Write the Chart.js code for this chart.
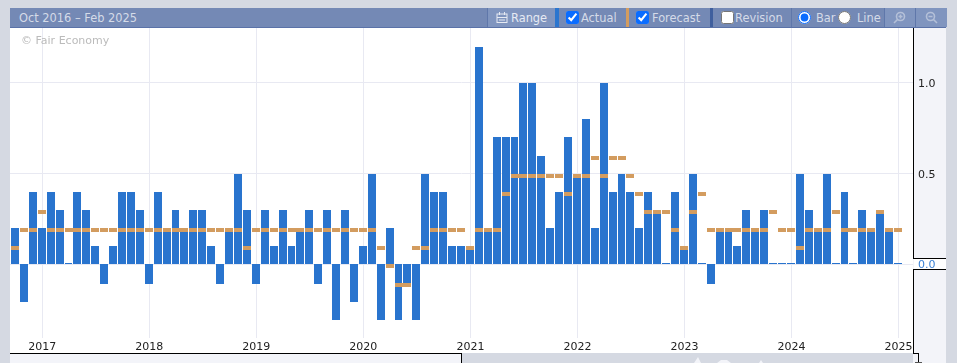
<!DOCTYPE html>
<html>
<head>
<meta charset="utf-8">
<script src="https://cdn.jsdelivr.net/npm/chart.js@4/dist/chart.umd.js"></script>
<style>
  html, body { margin: 0; padding: 0; }
  body { width: 957px; height: 363px; background: #d5d9e2; overflow: hidden; position: relative;
         font-family: "DejaVu Sans", sans-serif; }
  .box { position: absolute; }
  #bar { left: 10px; top: 8px; width: 936px; height: 19px; background: #7489b5; border-bottom: 1px solid #5a72a8; color: #d5dbe8; font-size: 11.4px; }
  #bar span, #bar input, #bar svg, #bar i { position: absolute; }
  #bar span { top: 3px; line-height: 14px; white-space: nowrap; }
  #bar i { top: 0; height: 19px; }
  #bar input { margin: 0; top: 3px; width: 13px; height: 13px; accent-color: #0a6cff; }
  canvas { position: absolute; left: 10px; top: 28px; }
</style>
</head>
<body>
<div class="box" style="left:10px;top:28px;width:903px;height:325px;background:#fff"></div>
<div class="box" style="left:913px;top:28px;width:33px;height:335px;background:#f3f4f9"></div>
<div class="box" style="left:10px;top:353px;width:452px;height:10px;background:#f3f4f9"></div>
<div class="box" style="left:914px;top:259px;width:32px;height:10px;background:#fff"></div>
<svg class="box" style="left:690px;top:353px" width="90" height="10"><path d="M4 10L8 4L11 10ZM27 10L31 7H37L41 10ZM69 10L71 7L73 10Z" fill="#f3f4f9"/></svg>

<div class="box" id="bar">
  <span style="left:9px">Oct 2016 – Feb 2025</span>
  <i style="left:477px;width:68px;background:#8095bf;border-left:1px solid #5f77aa"></i>
  <svg style="left:486px;top:3px" width="12" height="13" viewBox="0 0 12 13" fill="none" stroke="#e6eaf3"><rect x="1" y="3" width="10" height="8.5"/><path d="M1 6.5h10M3.5 1v3M8.5 1v3M3 9h6"/></svg>
  <span style="left:501px;color:#e6eaf3">Range</span>
  <i style="left:545px;width:4px;background:#2a75cf"></i>
  <input type="checkbox" checked style="left:556px">
  <span style="left:571px">Actual</span>
  <i style="left:616px;width:3px;background:#d39c5f"></i>
  <input type="checkbox" checked style="left:626px">
  <span style="left:642px">Forecast</span>
  <i style="left:700px;width:3px;background:#3f5f9e"></i>
  <input type="checkbox" style="left:711px">
  <span style="left:725px">Revision</span>
  <i style="left:781px;width:1px;background:#5f77aa"></i>
  <input type="radio" name="mode" checked style="left:788px">
  <span style="left:806px">Bar</span>
  <input type="radio" name="mode" style="left:828px">
  <span style="left:847px">Line</span>
  <i style="left:874px;width:31px;background:#8095bf;border-left:1px solid #5f77aa"></i>
  <i style="left:905px;width:31px;background:#8095bf;border-left:1px solid #5f77aa"></i>
  <svg style="left:883px;top:3px" width="13" height="13" viewBox="0 0 13 13" fill="none" stroke="#b4c0d8" stroke-width="1.6"><circle cx="7.5" cy="5.5" r="4"/><path d="M4.5 8.5L1 12M5.5 5.5h4M7.5 3.5v4"/></svg>
  <svg style="left:915px;top:3px" width="13" height="13" viewBox="0 0 13 13" fill="none" stroke="#b4c0d8" stroke-width="1.6"><circle cx="5.5" cy="5.5" r="4"/><path d="M8.5 8.5L12 12M3.5 5.5h4"/></svg>
</div>

<canvas id="chart" width="936" height="325"></canvas>

<div class="box" style="left:21px;top:34px;font-size:11px;color:#bbbbbb">© Fair Economy</div>

<!-- axis frame -->
<div class="box" style="left:913px;top:28px;width:1px;height:230px;background:#000"></div>
<div class="box" style="left:913px;top:258px;width:33px;height:1px;background:#000"></div>
<div class="box" style="left:913px;top:269px;width:33px;height:1px;background:#000"></div>
<div class="box" style="left:913px;top:269px;width:1px;height:85px;background:#000"></div>
<div class="box" style="left:913px;top:353px;width:6px;height:1px;background:#000"></div>
<div class="box" style="left:918px;top:353px;width:1px;height:9px;background:#000"></div>
<div class="box" style="left:915px;top:362px;width:7px;height:1px;background:#555"></div>
<div class="box" style="left:10px;top:353px;width:452px;height:1px;background:#000"></div>
<div class="box" style="left:461px;top:353px;width:1px;height:10px;background:#000"></div>

<script>
// Oct 2016 .. Jan 2025, one value per month
const actual = [
  0.2, -0.2, 0.4,
  0.2, 0.4, 0.3, 0.0, 0.4, 0.3, 0.1, -0.1, 0.1, 0.4, 0.4, 0.3,
  -0.1, 0.4, 0.2, 0.3, 0.2, 0.3, 0.3, 0.1, -0.1, 0.2, 0.5, 0.3,
  -0.1, 0.3, 0.1, 0.3, 0.1, 0.2, 0.3, -0.1, 0.3, -0.3, 0.3, -0.2,
  0.1, 0.5, -0.3, 0.2, -0.3, -0.1, -0.3, 0.5, 0.4, 0.4, 0.1, 0.1,
  0.1, 1.2, 0.2, 0.7, 0.7, 0.7, 1.0, 1.0, 0.6, 0.2, 0.4, 0.7,
  0.5, 0.8, 0.2, 1.0, 0.4, 0.5, 0.4, 0.2, 0.4, 0.3, 0.0, 0.4,
  0.1, 0.5, 0.0, -0.1, 0.2, 0.2, 0.1, 0.3, 0.2, 0.3, 0.0, 0.0,
  0.0, 0.5, 0.3, 0.2, 0.5, 0.0, 0.4, 0.0, 0.3, 0.2, 0.3, 0.2,
  0.0
];
const forecast = [
  0.1, 0.2, 0.2,
  0.3, 0.2, 0.2, 0.2, 0.2, 0.2, 0.2, 0.2, 0.2, 0.2, 0.2, 0.2,
  0.2, 0.2, 0.2, 0.2, 0.2, 0.2, 0.2, 0.2, 0.2, 0.2, 0.2, 0.1,
  0.2, 0.2, 0.2, 0.2, 0.2, 0.2, 0.2, 0.2, 0.2, 0.2, 0.2, 0.2,
  0.2, 0.2, 0.1, 0.0, -0.1, -0.1, 0.1, 0.1, 0.2, 0.2, 0.2, 0.2,
  0.1, 0.2, 0.2, 0.2, 0.4, 0.5, 0.5, 0.5, 0.5, 0.5, 0.5, 0.4,
  0.5, 0.5, 0.6, 0.5, 0.6, 0.6, 0.5, 0.4, 0.3, 0.3, 0.3, 0.2,
  0.1, 0.3, 0.4, 0.2, 0.2, 0.2, 0.2, 0.2, 0.2, 0.2, 0.3, 0.2,
  0.2, 0.1, 0.2, 0.2, 0.2, 0.3, 0.2, 0.2, 0.2, 0.2, 0.3, 0.2,
  0.2
];
const years = [2017, 2018, 2019, 2020, 2021, 2022, 2023, 2024, 2025];
const yTicks = [0, 0.5, 1.0];

// January 2017 is the 4th month of the series
const janIndex = years.map((y, i) => 3 + i * 12);

// forecast dash hangs below its value, so the marker image is 4px dash under the centre
const dash = document.createElement('canvas');
dash.width = 8;
dash.height = 8;
const dashCtx = dash.getContext('2d');
dashCtx.fillStyle = '#d39c5f';
dashCtx.fillRect(0, 4, 8, 4);

function noPadding(s) {
  s.paddingTop = s.paddingBottom = s.paddingLeft = s.paddingRight = 0;
}

// snap marks to whole pixels so edges stay crisp
const snapPixels = {
  id: 'snapPixels',
  beforeDatasetsDraw(chart) {
    chart.getDatasetMeta(0).data.forEach(p => {
      p.x = Math.floor(p.x);
      p.y = Math.round(p.y);
    });
    const bars = chart.getDatasetMeta(1).data;
    const centers = bars.map(b => Math.floor(b.x));
    bars.forEach((b, i) => {
      if (actual[i] === 0) {
        // zero months are only a 1px line on the axis
        b.y = Math.floor(b.base);
        b.base = b.y + 1;
      } else if (actual[i] < 0) {
        b.y = Math.round(b.y) + 1;
        b.base = Math.floor(b.base);
      } else {
        b.y = Math.round(b.y);
        b.base = Math.round(b.base);
      }
      // a step of only 8px leaves no gap, that bar is 1px narrower
      const narrow = i < bars.length - 1 && centers[i + 1] - centers[i] === 8;
      b.width = narrow ? 7 : 8;
      b.x = narrow ? centers[i] - 0.5 : centers[i];
    });
  }
};

new Chart(document.getElementById('chart'), {
  type: 'bar',
  plugins: [snapPixels],
  data: {
    datasets: [{
      type: 'line',
      label: 'Forecast',
      data: forecast.map((y, i) => ({ x: i, y: y })),
      showLine: false,
      pointStyle: dash,
      order: 0
    }, {
      label: 'Actual',
      data: actual.map((y, i) => ({ x: i, y: y })),
      backgroundColor: '#2974ce',
      barThickness: 8,
      minBarLength: 1,
      inflateAmount: 0,
      order: 1
    }]
  },
  options: {
    responsive: false,
    animation: false,
    devicePixelRatio: 1,
    layout: { padding: 0, autoPadding: false },
    plugins: { legend: { display: false }, tooltip: { enabled: false } },
    scales: {
      x: {
        type: 'linear',
        offset: false,
        min: -0.617,
        max: 100.62,
        afterBuildTicks: (s) => { s.ticks = janIndex.map(v => ({ value: v })); },
        afterFit: (s) => { s.height = 15; noPadding(s); },
        grid: { color: '#e8e9f2', drawTicks: false, offset: false },
        border: { display: false },
        ticks: {
          autoSkip: false,
          maxRotation: 0,
          padding: 3,
          color: '#222222',
          font: { family: '"DejaVu Sans"', size: 11 },
          callback: (v) => years[janIndex.indexOf(v)]
        }
      },
      y: {
        position: 'right',
        min: -0.405,
        max: 1.303,
        afterBuildTicks: (s) => { s.ticks = yTicks.map(v => ({ value: v })); },
        afterFit: (s) => { s.width = 33; noPadding(s); },
        grid: { color: '#e8e9f2', drawTicks: false },
        border: { display: false },
        ticks: {
          padding: 5,
          labelOffset: 1,
          color: (c) => c.tick.value === 0 ? '#3b82d6' : '#222222',
          font: { family: '"DejaVu Sans"', size: 11 },
          callback: (v) => v.toFixed(1)
        }
      }
    }
  }
});
</script>
</body>
</html>
